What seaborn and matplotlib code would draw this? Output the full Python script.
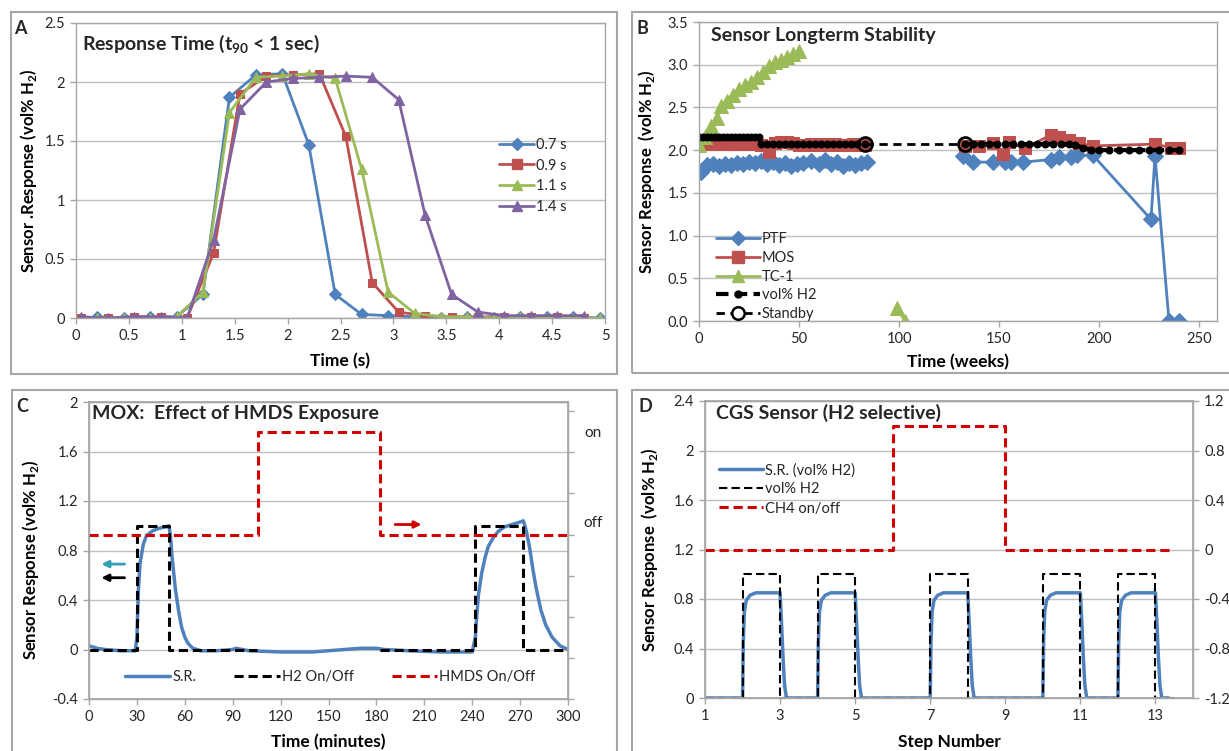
import numpy as np
import pandas as pd
import matplotlib
matplotlib.use('Agg')
import matplotlib.pyplot as plt
import seaborn as sns
from matplotlib.lines import Line2D
from matplotlib.patches import Rectangle
from matplotlib.ticker import FuncFormatter, FormatStrFormatter

nan = np.nan

# ---------------- data ----------------
# A: response time
a_x1 = [0.2, 0.45, 0.7, 0.95, 1.2, 1.45, 1.7, 1.95, 2.2, 2.45, 2.7, 2.95, 3.2, 3.45, 3.7, 3.95, 4.2, 4.45, 4.7, 4.95]
a_x2 = [0.05, 0.3, 0.55, 0.8, 1.05, 1.3, 1.55, 1.8, 2.05, 2.3, 2.55, 2.8, 3.05, 3.3, 3.55, 3.8, 4.05, 4.3, 4.55, 4.8]
a_07 = [0.01, 0.0, 0.01, 0.01, 0.2, 1.87, 2.06, 2.07, 1.47, 0.2, 0.03, 0.02, 0.01, 0.0, 0.01, 0.0, 0.01, 0.01, 0.01, 0.0]
a_09 = [0.0, 0.0, 0.01, 0.01, 0.0, 0.55, 1.9, 2.05, 2.06, 2.07, 1.54, 0.3, 0.05, 0.02, 0.01, 0.01, 0.01, 0.01, 0.01, 0.0]
a_11 = [0.0, 0.0, 0.0, 0.01, 0.22, 1.74, 2.04, 2.05, 2.07, 2.03, 1.26, 0.22, 0.04, 0.01, 0.01, 0.0, 0.01, 0.0, 0.0, 0.0]
a_14 = [0.01, 0.0, 0.01, 0.01, 0.0, 0.66, 1.77, 2.0, 2.03, 2.04, 2.05, 2.04, 1.85, 0.87, 0.2, 0.05, 0.02, 0.02, 0.02, 0.02]
a_labels = ['0.7 s', '0.9 s', '1.1 s', '1.4 s']

# B: longterm stability (weeks)
ptf_w = [1, 4, 7, 10, 13, 16, 19, 22, 25, 28, 31, 34, 37, 40, 43, 46, 49, 52, 56, 60, 63, 66, 69, 72, 75, 78, 81, 84,
         nan, 132, 137, 147, 153, 156, 162, 176, 180, 186, 189, 197, 226, 228, 235, 240]
ptf_v = [1.75, 1.83, 1.84, 1.82, 1.84, 1.83, 1.85, 1.84, 1.86, 1.85, 1.87, 1.84, 1.86, 1.83, 1.85, 1.82, 1.84, 1.85,
         1.87, 1.84, 1.88, 1.84, 1.86, 1.82, 1.85, 1.83, 1.85, 1.86,
         nan, 1.93, 1.86, 1.86, 1.86, 1.86, 1.86, 1.89, 1.92, 1.92, 1.94, 1.94, 1.19, 1.93, 0.0, 0.0]
mos_w = [1, 4, 7, 10, 13, 16, 19, 22, 25, 28, 31, 35, 38, 41, 44, 47, 50, 53, 56, 59, 62, 65, 68, 71, 74, 77, 80, 83,
         nan, 133, 140, 147, 152, 155, 163, 176, 180, 185, 190, 197, 228, 236, 240]
mos_v = [2.07, 2.07, 2.08, 2.07, 2.08, 2.07, 2.07, 2.08, 2.07, 2.07, 2.06, 1.98, 2.08, 2.09, 2.09, 2.08, 2.06, 2.06,
         2.07, 2.06, 2.07, 2.06, 2.07, 2.06, 2.06, 2.07, 2.06, 2.06,
         nan, 2.05, 2.05, 2.08, 1.95, 2.09, 2.02, 2.18, 2.15, 2.12, 2.08, 2.05, 2.07, 2.03, 2.03]
tc_w = [0, 3, 6, 9, 11, 14, 17, 20, 23, 26, 29, 32, 35, 38, 41, 44, 47, 50, nan, 99, 103]
tc_v = [2.06, 2.15, 2.28, 2.38, 2.52, 2.58, 2.65, 2.72, 2.76, 2.8, 2.86, 2.92, 2.98, 3.03, 3.06, 3.09, 3.12, 3.16,
        nan, 0.15, 0.0]
h2_w = [0, 2, 4, 6, 8, 10, 12, 14, 16, 18, 20, 22, 24, 26, 28, 30,
        31, 34, 37, 40, 43, 46, 49, 52, 55, 58, 61, 64, 67, 70, 73, 76, 79, 83,
        nan, 133, 137, 141, 145, 149, 153, 157, 161, 165, 169, 173, 177, 181, 185,
        188, 192, 196, 200, 205, 210, 215, 220, 225, 230, 235, 240]
h2_v = [2.15, 2.15, 2.15, 2.15, 2.15, 2.15, 2.15, 2.15, 2.15, 2.15, 2.15, 2.15, 2.15, 2.15, 2.15, 2.15,
        2.07, 2.07, 2.07, 2.07, 2.07, 2.07, 2.07, 2.07, 2.07, 2.07, 2.07, 2.07, 2.07, 2.07, 2.07, 2.07, 2.07, 2.07,
        nan, 2.07, 2.07, 2.07, 2.07, 2.07, 2.07, 2.07, 2.07, 2.07, 2.07, 2.07, 2.07, 2.07, 2.07,
        2.06, 2.03, 2.0, 2.0, 2.0, 2.0, 2.0, 2.0, 2.0, 2.0, 2.0, 2.0]
stby_w = [83, 133]
stby_v = [2.07, 2.07]
b_labels = ['PTF', 'MOS', 'TC-1', 'vol% H2', 'Standby']

# C: HMDS exposure (minutes)
c_sr_t = [0, 5, 10, 20, 29, 30, 31, 32, 34, 36, 40, 44, 48, 50, 51, 52, 54, 56, 58, 60, 62, 65, 70, 80, 90, 92, 100,
          120, 140, 160, 170, 180, 185, 200, 220, 240, 242, 243, 244, 246, 248, 250, 253, 256, 260, 265, 270, 272,
          273, 274, 276, 278, 280, 283, 286, 290, 295, 300]
c_sr_v = [0.03, 0.01, 0.0, -0.01, -0.01, 0.1, 0.5, 0.7, 0.85, 0.92, 0.96, 0.98, 0.99, 1.0, 0.92, 0.75, 0.5, 0.32,
          0.18, 0.1, 0.05, 0.01, -0.01, -0.01, 0.0, 0.01, -0.01, -0.02, -0.02, 0.0, 0.01, 0.01, 0.0, -0.01, -0.02,
          -0.02, 0.1, 0.3, 0.45, 0.62, 0.74, 0.83, 0.9, 0.95, 0.99, 1.01, 1.03, 1.04, 1.0, 0.95, 0.82, 0.65, 0.5,
          0.32, 0.2, 0.1, 0.03, 0.0]
c_h2_t = [0, 30, 30, 50, 50, 105, nan, 182, 242, 242, 272, 272, 300]
c_h2_v = [0, 0, 1, 1, 0, 0, nan, 0, 0, 1, 1, 0, 0]
c_hmds_t = [0, 106, 106, 182, 182, 300]
c_hmds_v = [0, 0, 1, 1, 0, 0]
c_labels = ['S.R.', 'H2 On/Off', 'HMDS On/Off']

# D: CGS sensor (step number)
d_sr_s = [1, 2.0, 2.02, 2.05, 2.1, 2.2, 2.35, 3.0, 3.04, 3.08, 3.12, 3.17,
          4.0, 4.02, 4.05, 4.1, 4.2, 4.35, 5.0, 5.04, 5.08, 5.12, 5.17,
          7.0, 7.02, 7.05, 7.1, 7.2, 7.35, 8.0, 8.04, 8.08, 8.12, 8.17,
          10.0, 10.02, 10.05, 10.1, 10.2, 10.35, 11.0, 11.04, 11.08, 11.12, 11.17,
          12.0, 12.02, 12.05, 12.1, 12.2, 12.35, 13.0, 13.04, 13.08, 13.12, 13.17, 13.35]
d_sr_v = [0, 0, 0.45, 0.7, 0.79, 0.83, 0.85, 0.85, 0.6, 0.32, 0.1, 0,
          0, 0.45, 0.7, 0.79, 0.83, 0.85, 0.85, 0.6, 0.32, 0.1, 0,
          0, 0.45, 0.7, 0.79, 0.83, 0.85, 0.85, 0.6, 0.32, 0.1, 0,
          0, 0.45, 0.7, 0.79, 0.83, 0.85, 0.85, 0.6, 0.32, 0.1, 0,
          0, 0.45, 0.7, 0.79, 0.83, 0.85, 0.85, 0.6, 0.32, 0.1, 0, 0]
d_h2_s = [1, 2, 2, 3, 3, 4, 4, 5, 5, 7, 7, 8, 8, 10, 10, 11, 11, 12, 12, 13, 13, 13.5]
d_h2_v = [0, 0, 1, 1, 0, 0, 1, 1, 0, 0, 1, 1, 0, 0, 1, 1, 0, 0, 1, 1, 0, 0]
d_ch4_s = [1, 6, 6, 9, 9, 13.4]
d_ch4_v = [0, 0, 1, 1, 0, 0]
d_labels = ['S.R. (vol% H2)', 'vol% H2', 'CH4 on/off']

# ---------------- style ----------------
sns.set_theme(style='white')
plt.rcParams['font.family'] = ['Lato', 'DejaVu Sans']
plt.rcParams['axes.unicode_minus'] = False
plt.rcParams['mathtext.fontset'] = 'custom'
plt.rcParams['mathtext.rm'] = 'Lato'
plt.rcParams['mathtext.bf'] = 'Lato:bold'

BLUE, RED, GREEN, PURPLE = '#4F81BD', '#C0504D', '#9BBB59', '#8064A2'
DRED = '#D00000'
GRID = '#BFBFBF'
SPINE = '#A6A6A6'
TXT = '#262626'

W, H = 1229, 751
fig = plt.figure(figsize=(W / 100, H / 100), dpi=100)


def rect(l, t, r, b):
    return [l / W, 1 - b / H, (r - l) / W, (b - t) / H]


def draw(ax, x, y, **kw):
    df = pd.DataFrame({'x': x, 'y': y})
    df['seg'] = df['y'].isna().cumsum()
    df = df.dropna()
    sns.lineplot(data=df, x='x', y='y', units='seg', estimator=None, sort=False,
                 ax=ax, legend=False, **kw)


gfmt = FuncFormatter(lambda v, p: f'{round(v, 6) + 0:g}')


def style(ax, xlim, xticks, ylim, yticks, yfmt):
    ax.set_xlim(*xlim)
    ax.set_xticks(xticks)
    ax.set_ylim(*ylim)
    ax.set_yticks(yticks)
    ax.xaxis.set_major_formatter(gfmt)
    ax.yaxis.set_major_formatter(yfmt)
    ax.grid(False)
    ax.grid(axis='y', color=GRID, lw=1)
    ax.set_axisbelow(True)
    for s in ax.spines.values():
        s.set_color(SPINE)
        s.set_linewidth(1)
    ax.tick_params(bottom=True, left=True, direction='out', length=4, width=1, color=SPINE,
                   labelsize=10.5, labelcolor=TXT, pad=4)


# ---------------- A ----------------
axA = fig.add_axes(rect(76, 23, 605, 318))
draw(axA, a_x1, a_07, color=BLUE, lw=2, marker='D', markersize=6.5, markeredgecolor=BLUE)
draw(axA, a_x2, a_09, color=RED, lw=2, marker='s', markersize=6, markeredgecolor=RED)
draw(axA, a_x1, a_11, color=GREEN, lw=2, marker='^', markersize=7, markeredgecolor=GREEN)
draw(axA, a_x2, a_14, color=PURPLE, lw=2, marker='^', markersize=7, markeredgecolor=PURPLE)
style(axA, (0, 5), [0, 0.5, 1, 1.5, 2, 2.5, 3, 3.5, 4, 4.5, 5], (0, 2.5), [0, 0.5, 1, 1.5, 2, 2.5], gfmt)
axA.set_xlabel('Time (s)', fontsize=12.5, fontweight='bold', color='black')
axA.set_ylabel(r'Sensor .Response (vol% H$_\mathbf{2}$)', fontsize=12, fontweight='bold', color='black')
axA.xaxis.set_label_coords(0.5, -0.12)
axA.yaxis.set_label_coords(-0.07, 0.5)
axA.text(0.012, 0.93, r'Response Time (t$_\mathbf{90}$ < 1 sec)', transform=axA.transAxes,
         fontsize=14, fontweight='bold', va='center', ha='left')
hA = [Line2D([], [], color=c, lw=2, marker=m, markersize=6.5, markeredgecolor=c)
      for c, m in zip([BLUE, RED, GREEN, PURPLE], ['D', 's', '^', '^'])]
axA.legend(hA, a_labels, loc='upper left', bbox_to_anchor=(499 / W, 1 - 138 / H),
           bbox_transform=fig.transFigure, frameon=False, fontsize=10.5, handlelength=2.4,
           handletextpad=0.15, labelspacing=0.45, borderpad=0, borderaxespad=0, labelcolor=TXT)

# ---------------- B ----------------
axB = fig.add_axes(rect(699, 22, 1217, 321))
draw(axB, ptf_w, ptf_v, color=BLUE, lw=2, marker='D', markersize=8, markeredgecolor=BLUE)
draw(axB, mos_w, mos_v, color=RED, lw=2, marker='s', markersize=8, markeredgecolor=RED)
draw(axB, tc_w, tc_v, color=GREEN, lw=2, marker='^', markersize=10, markeredgecolor=GREEN)
draw(axB, h2_w, h2_v, color='black', lw=3, linestyle=(0, (3, 1.5)), marker='o', markersize=5,
     markeredgecolor='black')
draw(axB, stby_w, stby_v, color='black', lw=2, linestyle=(0, (3, 2)), marker='o', markersize=10,
     markerfacecolor='none', markeredgecolor='black', markeredgewidth=2)
style(axB, (0, 259), [0, 50, 100, 150, 200, 250], (0, 3.5), [0, 0.5, 1, 1.5, 2, 2.5, 3, 3.5],
      FormatStrFormatter('%.1f'))
axB.set_xlabel('Time (weeks)', fontsize=12.5, fontweight='bold', color='black')
axB.set_ylabel(r'Sensor Response  (vol% H$_\mathbf{2}$)', fontsize=12, fontweight='bold', color='black')
axB.xaxis.set_label_coords(0.5, -0.11)
axB.yaxis.set_label_coords(-0.081, 0.5)
axB.text(0.023, 0.955, 'Sensor Longterm Stability', transform=axB.transAxes,
         fontsize=14, fontweight='bold', va='center', ha='left')
hB = [Line2D([], [], color=BLUE, lw=2, marker='D', markersize=7, markeredgecolor=BLUE),
      Line2D([], [], color=RED, lw=2, marker='s', markersize=8, markeredgecolor=RED),
      Line2D([], [], color=GREEN, lw=2, marker='^', markersize=9, markeredgecolor=GREEN),
      Line2D([], [], color='black', lw=3, linestyle=(0, (3, 1.5)), marker='o', markersize=5),
      Line2D([], [], color='black', lw=2, linestyle=(0, (3, 2)), marker='o', markersize=9,
             markerfacecolor='white', markeredgecolor='black', markeredgewidth=1.8)]
axB.legend(hB, b_labels, loc='upper left', bbox_to_anchor=(716 / W, 1 - 232 / H),
           bbox_transform=fig.transFigure, frameon=False, fontsize=10.5, handlelength=3.0,
           handletextpad=0.15, labelspacing=0.33, borderpad=0, borderaxespad=0, labelcolor=TXT)

# ---------------- C ----------------
axC = fig.add_axes(rect(89, 402, 568, 699))
draw(axC, c_sr_t, c_sr_v, color=BLUE, lw=2.5)
draw(axC, c_h2_t, c_h2_v, color='black', lw=2.2, linestyle=(0, (3, 1.6)))
style(axC, (0, 300), [0, 30, 60, 90, 120, 150, 180, 210, 240, 270, 300], (-0.4, 2),
      [-0.4, 0, 0.4, 0.8, 1.2, 1.6, 2], gfmt)
axC.set_xlabel('Time (minutes)', fontsize=12.5, fontweight='bold', color='black')
axC.set_ylabel(r'Sensor Response (vol% H$_\mathbf{2}$)', fontsize=12, fontweight='bold', color='black')
axC.xaxis.set_label_coords(0.5, -0.118)
axC.yaxis.set_label_coords(-0.1, 0.47)
axC2 = axC.twinx()
draw(axC2, c_hmds_t, c_hmds_v, color=DRED, lw=2.2, linestyle=(0, (3, 1.6)))
axC2.set_ylim(-1.6, 1.29)
axC2.set_yticks([-1.6, -1.2, -0.8, -0.4, 0, 0.4, 0.8, 1.2])
axC2.set_yticklabels([])
axC2.set_ylabel('')
axC2.grid(False)
for s in axC2.spines.values():
    s.set_color(SPINE)
axC2.tick_params(right=True, direction='out', length=4, width=1, color=SPINE)
axC.text(0.006, 0.96, 'MOX:  Effect of HMDS Exposure', transform=axC.transAxes,
         fontsize=14, fontweight='bold', va='center', ha='left')
fig.text(593 / W, 1 - 433 / H, 'on', fontsize=11, ha='center', va='center', color=TXT)
fig.text(593 / W, 1 - 523 / H, 'off', fontsize=11, ha='center', va='center', color=TXT)
axC.annotate('', xy=(6, 0.69), xytext=(24, 0.69),
             arrowprops=dict(arrowstyle='-|>', color='#31A0B8', lw=2, mutation_scale=10))
axC.annotate('', xy=(6, 0.58), xytext=(24, 0.58),
             arrowprops=dict(arrowstyle='-|>', color='black', lw=2, mutation_scale=10))
axC.annotate('', xy=(210, 1.01), xytext=(190, 1.01),
             arrowprops=dict(arrowstyle='-|>', color=DRED, lw=2, mutation_scale=10))
hC = [Line2D([], [], color=BLUE, lw=2.5),
      Line2D([], [], color='black', lw=2.2, linestyle=(0, (3, 1.6))),
      Line2D([], [], color=DRED, lw=2.2, linestyle=(0, (3, 1.6)))]
axC2.legend(hC, c_labels, loc='upper left', bbox_to_anchor=(125 / W, 1 - 670 / H),
            bbox_transform=fig.transFigure, frameon=False, fontsize=10.5, ncol=3, handlelength=3.1,
            handletextpad=0.15, columnspacing=2.6, borderpad=0, borderaxespad=0, labelcolor=TXT)

# ---------------- D ----------------
axD = fig.add_axes(rect(705, 401, 1193, 698))
draw(axD, d_sr_s, d_sr_v, color=BLUE, lw=2.5)
draw(axD, d_h2_s, d_h2_v, color='black', lw=1.5, linestyle=(0, (4, 2)))
style(axD, (1, 14), [1, 3, 5, 7, 9, 11, 13], (0, 2.4), [0, 0.4, 0.8, 1.2, 1.6, 2, 2.4], gfmt)
axD.set_xlabel('Step Number', fontsize=12.5, fontweight='bold', color='black')
axD.set_ylabel(r'Sensor Response  (vol% H$_\mathbf{2}$)', fontsize=12, fontweight='bold', color='black')
axD.xaxis.set_label_coords(0.5, -0.121)
axD.yaxis.set_label_coords(-0.092, 0.5)
axD2 = axD.twinx()
draw(axD2, d_ch4_s, d_ch4_v, color=DRED, lw=2.2, linestyle=(0, (3, 1.6)))
axD2.set_ylim(-1.2, 1.2)
axD2.set_yticks([-1.2, -0.8, -0.4, 0, 0.4, 0.8, 1.2])
axD2.yaxis.set_major_formatter(gfmt)
axD2.set_ylabel('')
axD2.grid(False)
for s in axD2.spines.values():
    s.set_color(SPINE)
axD2.tick_params(right=True, direction='out', length=4, width=1, color=SPINE,
                 labelsize=10.5, labelcolor=TXT, pad=4)
axD.text(0.022, 0.96, 'CGS Sensor (H2 selective)', transform=axD.transAxes,
         fontsize=14, fontweight='bold', va='center', ha='left')
hD = [Line2D([], [], color=BLUE, lw=2.5),
      Line2D([], [], color='black', lw=1.5, linestyle=(0, (4, 2))),
      Line2D([], [], color=DRED, lw=2.2, linestyle=(0, (3, 1.6)))]
axD2.legend(hD, d_labels, loc='upper left', bbox_to_anchor=(719 / W, 1 - 463 / H),
            bbox_transform=fig.transFigure, frameon=False, fontsize=10.5, handlelength=3.0,
            handletextpad=0.15, labelspacing=0.35, borderpad=0, borderaxespad=0, labelcolor=TXT)

# ---------------- panel frames & letters ----------------
for (l, t, r, b) in [(11, 12, 617, 374), (632, 12, 1240, 373), (12, 390, 617, 760), (632, 390, 1240, 760)]:
    fig.add_artist(Rectangle((l / W, 1 - b / H), (r - l) / W, (b - t) / H, transform=fig.transFigure,
                             fill=False, ec=SPINE, lw=1.5))
for letter, (x, y) in zip('ABCD', [(20, 29), (642, 29), (22, 407), (645, 407)]):
    fig.text(x / W, 1 - y / H, letter, fontsize=13, fontweight='bold', ha='center', va='center')

fig.savefig('out.png', dpi=100)
